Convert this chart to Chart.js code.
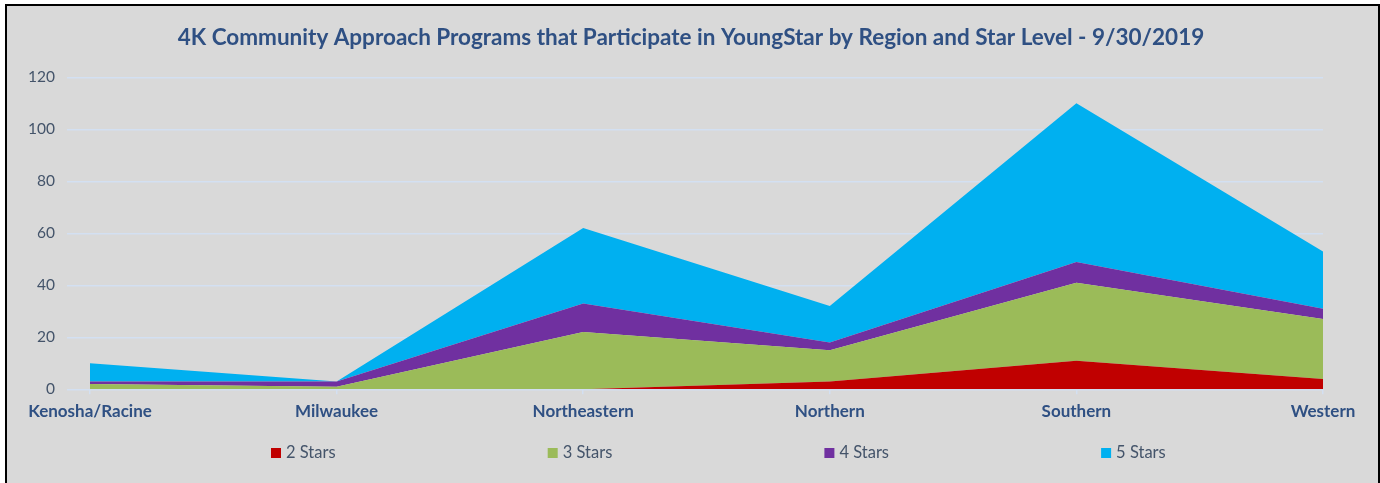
<!DOCTYPE html>
<html>
<head>
<meta charset="utf-8">
<script src="https://cdn.jsdelivr.net/npm/chart.js@4"></script>
<style>
  html, body { margin: 0; padding: 0; background: #ffffff; width: 1380px; height: 483px; overflow: hidden; }
  #frame { position: absolute; left: 5px; top: 4px; width: 1371px; height: 479px; border: 2px solid #000; border-bottom: none; background: #D9D9D9; }
  #wrap { position: absolute; left: 0; top: 0; width: 1371px; height: 477px; }
</style>
</head>
<body>
<div id="frame"><div id="wrap"><canvas id="c"></canvas></div></div>
<script>
const categories = ['Kenosha/Racine', 'Milwaukee', 'Northeastern', 'Northern', 'Southern', 'Western'];
const stars2 = [0, 0, 0, 3, 11, 4];
const stars3 = [2, 1, 22, 12, 30, 23];
const stars4 = [1, 2, 11, 3, 8, 4];
const stars5 = [7, 0, 29, 14, 61, 22];
const seriesNames = ['2 Stars', '3 Stars', '4 Stars', '5 Stars'];
const seriesColors = ['#C00000', '#9BBB59', '#7030A0', '#00B0F0'];
const yTicks = [0, 20, 40, 60, 80, 100, 120];
const titleText = '4K Community Approach Programs that Participate in YoungStar by Region and Star Level - 9/30/2019';

const FONT = 'Lato, "Liberation Sans", sans-serif';
const allSeries = [stars2, stars3, stars4, stars5];

const datasets = allSeries.map((vals, k) => ({
  label: seriesNames[k],
  data: vals.map((v, i) => ({ x: i, y: v })),
  backgroundColor: seriesColors[k],
  borderColor: seriesColors[k],
  borderWidth: 0,
  pointRadius: 0,
  pointHoverRadius: 0,
  tension: 0,
  fill: k === 0 ? 'origin' : '-1'
}));

const spacedLegend = {
  id: 'spacedLegend',
  afterDraw(chart) {
    const ctx = chart.ctx;
    const startX = 264, step = 276.7, cy = 447;
    ctx.save();
    ctx.font = '16.5px ' + FONT;
    ctx.textBaseline = 'middle';
    ctx.textAlign = 'left';
    chart.data.datasets.forEach((ds, i) => {
      const x = startX + i * step;
      ctx.fillStyle = ds.backgroundColor;
      ctx.fillRect(x, cy - 5, 10, 10);
      ctx.fillStyle = '#44546A';
      ctx.fillText(ds.label, x + 15, cy);
    });
    ctx.restore();
  }
};

new Chart(document.getElementById('c'), {
  type: 'line',
  data: { datasets },
  plugins: [spacedLegend],
  options: {
    responsive: true,
    maintainAspectRatio: false,
    animation: false,
    layout: { padding: { left: 10, right: 13, top: 18.5, bottom: 53.3 } },
    plugins: {
      legend: { display: false },
      tooltip: { enabled: false },
      title: {
        display: true,
        text: titleText,
        color: '#2F5083',
        font: { family: FONT, size: 22.5, weight: 'bold' },
        padding: { top: 0, bottom: 25.8 }
      }
    },
    scales: {
      x: {
        type: 'linear',
        min: -23 / 246.6,
        max: categories.length - 1,
        afterBuildTicks: (axis) => {
          axis.ticks = categories.map((c, i) => ({ value: i }));
        },
        ticks: {
          autoSkip: false,
          maxRotation: 0,
          padding: 7.5,
          color: '#2F5083',
          font: { family: FONT, size: 17, weight: 'bold' },
          callback: (v) => categories[v] !== undefined ? categories[v] : ''
        },
        grid: { drawOnChartArea: false, color: '#D3E0F2', tickLength: 5, lineWidth: 1.5 },
        border: { display: false }
      },
      y: {
        stacked: true,
        min: 0,
        max: 120,
        afterBuildTicks: (axis) => { axis.ticks = yTicks.map(v => ({ value: v })); },
        afterFit: (axis) => { axis.width = 50; },
        ticks: {
          padding: 12,
          color: '#44546A',
          font: { family: FONT, size: 15.5 }
        },
        grid: { color: '#D3E0F2', lineWidth: 1.5, drawTicks: false },
        border: { display: false }
      },
      yRight: {
        type: 'linear',
        position: 'right',
        min: 0,
        max: 120,
        afterFit: (axis) => { axis.width = 42; },
        ticks: { display: false },
        grid: { display: false, drawTicks: false },
        border: { display: false }
      }
    }
  }
});
</script>
</body>
</html>
